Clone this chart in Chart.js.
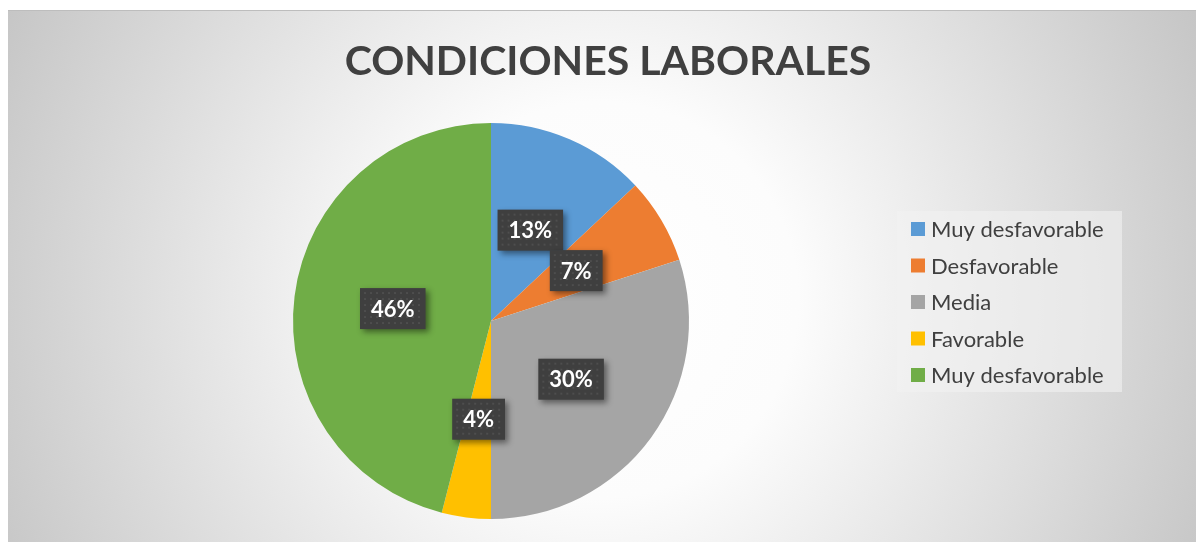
<!DOCTYPE html>
<html>
<head>
<meta charset="utf-8">
<script src="https://cdn.jsdelivr.net/npm/chart.js@4"></script>
<style>
  html, body { margin: 0; padding: 0; background: #fff; }
  #wrap { width: 1197px; height: 542px; position: relative; }
</style>
</head>
<body>
<div id="wrap"><canvas id="pieChart" width="1197" height="542"></canvas></div>
<script>
// Data
const title = 'CONDICIONES LABORALES';
const labels = ['Muy desfavorable', 'Desfavorable', 'Media', 'Favorable', 'Muy desfavorable'];
const values = [13, 7, 30, 4, 46];
const colors = ['#5b9bd5', '#ed7d31', '#a5a5a5', '#ffc000', '#70ad47'];

// background panel with radial gradient
const bgPlugin = {
    id: 'bg',
    beforeDraw(chart) {
        const c = chart.ctx;
        c.save();
        c.fillStyle = '#ffffff';
        c.fillRect(0, 0, chart.width, chart.height);
        const g = c.createRadialGradient(600, 300, 0, 600, 300, 660);
        g.addColorStop(0, '#ffffff');
        g.addColorStop(0.3, '#fcfcfc');
        g.addColorStop(1, '#c6c6c6');
        c.fillStyle = g;
        c.fillRect(8, 10, 1188, 532);
        c.fillStyle = '#bdbdbd';
        c.fillRect(8, 10, 1188, 1);
        c.restore();
    }
};

// title, legend and value labels
const decoPlugin = {
    id: 'deco',
    afterDraw(chart) {
        const c = chart.ctx;
        c.save();
        // title
        c.fillStyle = '#404040';
        c.font = 'bold 41px Lato';
        c.textAlign = 'center';
        c.textBaseline = 'middle';
        c.fillText(title, 608, 62);

        // legend
        c.fillStyle = 'rgba(242,242,242,0.6)';
        c.fillRect(897, 211, 225, 181);
        c.font = '22px Lato';
        c.textAlign = 'left';
        labels.forEach((lab, i) => {
            const y = 229 + i * 36.5;
            c.fillStyle = colors[i];
            c.fillRect(911, y - 7, 14, 14);
            c.fillStyle = '#404040';
            c.fillText(lab, 931, y + 1);
        });

        // value labels
        const meta = chart.getDatasetMeta(0);
        c.font = 'bold 22px Lato';
        c.textAlign = 'center';
        meta.data.forEach((arc, i) => {
            const p = arc.tooltipPosition();
            const txt = values[i] + '%';
            const w = c.measureText(txt).width + 22;
            const h = 41;
            const x = p.x - w / 2, y = p.y - h / 2;
            c.save();
            c.shadowColor = 'rgba(0,0,0,0.45)';
            c.shadowBlur = 6;
            c.shadowOffsetX = 3;
            c.shadowOffsetY = 3;
            c.fillStyle = '#3f3f3f';
            c.fillRect(x, y, w, h);
            c.restore();
            // dot pattern
            c.fillStyle = 'rgba(255,255,255,0.08)';
            for (let dx = 4; dx < w - 2; dx += 6) {
                for (let dy = 4; dy < h - 2; dy += 6) {
                    c.fillRect(x + dx, y + dy, 2, 2);
                }
            }
            c.fillStyle = '#ffffff';
            c.fillText(txt, p.x, p.y + 1);
        });
        c.restore();
    }
};

const ctx = document.getElementById('pieChart').getContext('2d');
new Chart(ctx, {
    type: 'pie',
    data: {
        labels: labels,
        datasets: [{
            data: values,
            backgroundColor: colors,
            borderWidth: 0,
            hoverOffset: 0
        }]
    },
    options: {
        responsive: false,
        animation: false,
        events: [],
        layout: {
            padding: { left: 293, right: 508, top: 123, bottom: 23 }
        },
        plugins: {
            legend: { display: false },
            title: { display: false },
            tooltip: { enabled: false }
        }
    },
    plugins: [bgPlugin, decoPlugin]
});
</script>
</body>
</html>
